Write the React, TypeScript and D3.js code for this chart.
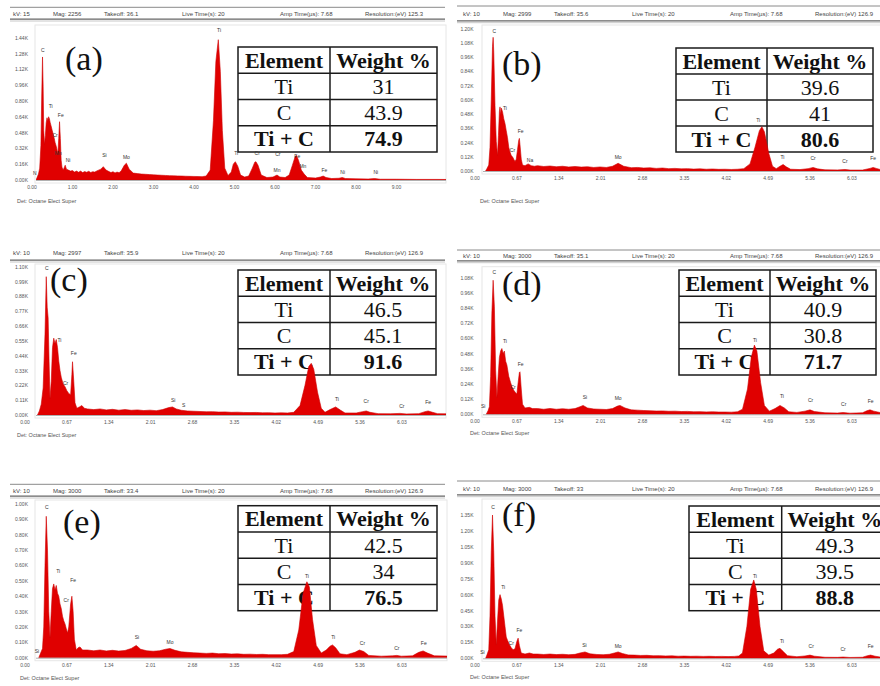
import { useEffect, useRef } from 'react';
import * as d3 from 'd3';

type Pt = [number, number];
type PeakLabel = [string, number, number];

const tableHeader = ['Element', 'Weight %'];
const tableRows = ['Ti', 'C', 'Ti + C'];
const detector = 'Det: Octane Elect Super';

const xTicksWide = [0, 1, 2, 3, 4, 5, 6, 7, 8, 9];
const xTicksNarrow = [0, 0.67, 1.34, 2.01, 2.68, 3.35, 4.02, 4.69, 5.36, 6.03];

// ---------- (a) ----------
const headerA = ['kV: 15', 'Mag: 2256', 'Takeoff: 36.1', 'Live Time(s): 20', 'Amp Time(µs): 7.68', 'Resolution:(eV) 125.3'];
const yTicksA = [0, 0.16, 0.32, 0.48, 0.64, 0.8, 0.96, 1.12, 1.28, 1.44];
const weightsA = ['31', '43.9', '74.9'];
const spectrumA: Pt[] = [
  [0.1, 0], [0.13, 0.03], [0.16, 0.06], [0.19, 0.12], [0.22, 0.35], [0.24, 0.85], [0.26, 1.245], [0.275, 0.95], [0.29, 0.5], [0.31, 0.36],
  [0.33, 0.45], [0.35, 0.58], [0.37, 0.63], [0.39, 0.6], [0.41, 0.64], [0.43, 0.62], [0.45, 0.58], [0.47, 0.55], [0.5, 0.5], [0.52, 0.47],
  [0.55, 0.42], [0.57, 0.38], [0.6, 0.34], [0.62, 0.3], [0.64, 0.27], [0.66, 0.42], [0.68, 0.59], [0.7, 0.42], [0.72, 0.2], [0.74, 0.13],
  [0.77, 0.1], [0.8, 0.13], [0.82, 0.15], [0.85, 0.11], [0.9, 0.1], [0.95, 0.09], [1.0, 0.095], [1.05, 0.08], [1.1, 0.09], [1.15, 0.078],
  [1.2, 0.09], [1.25, 0.075], [1.3, 0.085], [1.35, 0.078], [1.4, 0.088], [1.45, 0.076], [1.5, 0.084], [1.55, 0.08], [1.6, 0.092], [1.7, 0.11],
  [1.76, 0.135], [1.83, 0.1], [1.9, 0.085], [1.95, 0.075], [2.0, 0.084], [2.05, 0.072], [2.1, 0.08], [2.15, 0.074], [2.2, 0.09],
  [2.28, 0.15], [2.33, 0.17], [2.4, 0.11], [2.5, 0.07], [2.6, 0.065], [2.7, 0.06], [2.8, 0.058], [2.9, 0.055], [3.0, 0.052], [3.1, 0.05],
  [3.2, 0.048], [3.3, 0.046], [3.4, 0.044], [3.5, 0.042], [3.6, 0.041], [3.7, 0.04], [3.8, 0.038], [3.9, 0.037], [4.0, 0.036], [4.1, 0.035],
  [4.2, 0.034], [4.3, 0.04], [4.4, 0.1], [4.48, 0.6], [4.54, 1.2], [4.6, 1.42], [4.65, 1.1], [4.7, 0.5], [4.76, 0.12], [4.84, 0.045],
  [4.92, 0.08], [4.97, 0.16], [5.02, 0.185], [5.08, 0.14], [5.15, 0.05], [5.25, 0.03], [5.35, 0.04], [5.44, 0.12], [5.5, 0.18], [5.53, 0.185],
  [5.58, 0.15], [5.66, 0.05], [5.8, 0.025], [5.95, 0.03], [6.05, 0.05], [6.12, 0.03], [6.25, 0.025], [6.35, 0.05], [6.43, 0.15], [6.5, 0.24],
  [6.53, 0.25], [6.58, 0.2], [6.65, 0.1], [6.72, 0.06], [6.8, 0.025], [7.0, 0.02], [7.12, 0.03], [7.19, 0.04], [7.26, 0.025], [7.4, 0.015],
  [7.58, 0.018], [7.66, 0.025], [7.74, 0.015], [8.0, 0.012], [8.3, 0.01], [8.46, 0.015], [8.6, 0.008], [9.0, 0.008], [9.5, 0.006],
  [10.0, 0.006], [10.4, 0.005],
];
const labelsA: PeakLabel[] = [
  ['C', 0.27, 1.3], ['Ti', 0.46, 0.73], ['Fe', 0.71, 0.64], ['Cr', 0.57, 0.44], ['Mn', 0.65, 0.25], ['Ni', 0.89, 0.18],
  ['N', 0.07, 0.05], ['Si', 1.79, 0.23], ['Mo', 2.33, 0.21], ['Ti', 4.62, 1.5], ['Ti', 5.04, 0.25], ['Cr', 5.56, 0.25],
  ['Cr', 6.07, 0.24], ['Mn', 6.05, 0.08], ['Fe', 6.55, 0.225], ['Mn', 6.69, 0.12], ['Fe', 7.22, 0.08], ['Ni', 7.67, 0.06],
  ['Ni', 8.49, 0.06],
];

// ---------- (b) ----------
const headerB = ['kV: 10', 'Mag: 2999', 'Takeoff: 35.6', 'Live Time(s): 20', 'Amp Time(µs): 7.68', 'Resolution:(eV) 126.9'];
const yTicksB = [0, 0.12, 0.24, 0.36, 0.48, 0.6, 0.72, 0.84, 0.96, 1.08, 1.2];
const weightsB = ['39.6', '41', '80.6'];
const spectrumB: Pt[] = [
  [0.17, 0], [0.19, 0.02], [0.22, 0.05], [0.24, 0.2], [0.26, 0.6], [0.28, 1.05], [0.29, 1.126], [0.3, 1.0], [0.32, 0.55], [0.34, 0.25],
  [0.36, 0.13], [0.375, 0.3], [0.39, 0.5], [0.4, 0.54], [0.41, 0.47], [0.42, 0.53], [0.44, 0.5], [0.46, 0.44], [0.48, 0.4], [0.5, 0.34],
  [0.52, 0.28], [0.54, 0.2], [0.56, 0.16], [0.58, 0.13], [0.6, 0.12], [0.62, 0.1], [0.64, 0.08], [0.66, 0.1], [0.68, 0.18], [0.7, 0.26],
  [0.71, 0.275], [0.72, 0.22], [0.74, 0.1], [0.76, 0.05], [0.8, 0.045], [0.85, 0.06], [0.9, 0.045], [0.95, 0.04], [1.0, 0.045], [1.1, 0.038],
  [1.2, 0.042], [1.3, 0.036], [1.4, 0.04], [1.5, 0.034], [1.6, 0.038], [1.7, 0.033], [1.8, 0.036], [1.9, 0.03], [2.0, 0.034], [2.1, 0.03],
  [2.2, 0.04], [2.29, 0.065], [2.38, 0.04], [2.5, 0.028], [2.6, 0.03], [2.7, 0.025], [2.8, 0.027], [2.9, 0.022], [3.0, 0.025], [3.1, 0.02],
  [3.2, 0.022], [3.3, 0.018], [3.4, 0.02], [3.5, 0.016], [3.6, 0.018], [3.7, 0.015], [3.8, 0.017], [3.9, 0.014], [4.0, 0.015], [4.1, 0.013],
  [4.2, 0.015], [4.3, 0.02], [4.4, 0.06], [4.48, 0.2], [4.55, 0.34], [4.59, 0.373], [4.63, 0.33], [4.7, 0.15], [4.76, 0.04], [4.82, 0.02],
  [4.88, 0.04], [4.93, 0.055], [4.98, 0.035], [5.05, 0.015], [5.2, 0.012], [5.33, 0.02], [5.41, 0.03], [5.48, 0.018], [5.6, 0.01], [5.8, 0.009],
  [5.92, 0.013], [6.0, 0.008], [6.2, 0.008], [6.32, 0.022], [6.37, 0.03], [6.42, 0.022], [6.5, 0.01], [6.7, 0.008],
];
const labelsB: PeakLabel[] = [
  ['C', 0.31, 1.16], ['Ti', 0.48, 0.51], ['Cr', 0.6, 0.16], ['Fe', 0.73, 0.32], ['Na', 0.88, 0.08], ['Mo', 2.29, 0.1],
  ['Ti', 4.53, 0.415], ['Ti', 4.92, 0.1], ['Cr', 5.41, 0.09], ['Cr', 5.92, 0.07], ['Fe', 6.37, 0.09],
];

// ---------- (c) ----------
const headerC = ['kV: 10', 'Mag: 2997', 'Takeoff: 35.9', 'Live Time(s): 20', 'Amp Time(µs): 7.68', 'Resolution:(eV) 126.9'];
const yTicksC = [0, 0.11, 0.22, 0.33, 0.44, 0.55, 0.66, 0.77, 0.88, 0.99, 1.1];
const weightsC = ['46.5', '45.1', '91.6'];
const spectrumC: Pt[] = [
  [0.2, 0], [0.23, 0.03], [0.26, 0.08], [0.29, 0.2], [0.32, 0.6], [0.34, 1.026], [0.355, 0.8], [0.37, 0.72], [0.385, 0.4], [0.4, 0.12],
  [0.42, 0.25], [0.44, 0.5], [0.46, 0.57], [0.48, 0.53], [0.5, 0.56], [0.52, 0.5], [0.54, 0.4], [0.56, 0.33], [0.58, 0.28], [0.61, 0.23],
  [0.64, 0.21], [0.67, 0.18], [0.7, 0.16], [0.73, 0.15], [0.75, 0.3], [0.76, 0.395], [0.78, 0.25], [0.8, 0.09], [0.83, 0.05], [0.87, 0.06],
  [0.91, 0.07], [0.95, 0.05], [1.0, 0.045], [1.1, 0.04], [1.2, 0.045], [1.3, 0.038], [1.4, 0.042], [1.5, 0.036], [1.6, 0.04], [1.7, 0.035],
  [1.8, 0.038], [1.9, 0.033], [2.0, 0.036], [2.1, 0.032], [2.2, 0.04], [2.3, 0.055], [2.36, 0.06], [2.42, 0.045], [2.5, 0.035], [2.6, 0.03],
  [2.7, 0.028], [2.8, 0.026], [2.9, 0.024], [3.0, 0.025], [3.1, 0.022], [3.2, 0.023], [3.3, 0.02], [3.4, 0.021], [3.5, 0.019], [3.6, 0.018],
  [3.7, 0.019], [3.8, 0.016], [3.9, 0.017], [4.0, 0.015], [4.1, 0.016], [4.2, 0.015], [4.3, 0.02], [4.4, 0.07], [4.48, 0.22], [4.54, 0.36],
  [4.58, 0.383], [4.62, 0.34], [4.68, 0.17], [4.74, 0.05], [4.8, 0.02], [4.88, 0.04], [4.97, 0.06], [5.05, 0.035], [5.12, 0.015], [5.3, 0.015],
  [5.4, 0.025], [5.46, 0.03], [5.52, 0.02], [5.65, 0.01], [5.85, 0.009], [6.0, 0.012], [6.1, 0.008], [6.3, 0.01], [6.4, 0.025], [6.45, 0.03],
  [6.52, 0.02], [6.6, 0.01], [6.8, 0.008],
];
const labelsC: PeakLabel[] = [
  ['C', 0.35, 1.075], ['Ti', 0.55, 0.54], ['Cr', 0.65, 0.22], ['Fe', 0.78, 0.445], ['Si', 2.37, 0.1], ['S', 2.54, 0.06],
  ['Ti', 4.99, 0.106], ['Cr', 5.46, 0.087], ['Cr', 6.03, 0.054], ['Fe', 6.45, 0.08],
];

// ---------- (d) ----------
const headerD = ['kV: 10', 'Mag: 3000', 'Takeoff: 35.1', 'Live Time(s): 20', 'Amp Time(µs): 7.68', 'Resolution:(eV) 126.9'];
const yTicksD = [0, 0.12, 0.24, 0.36, 0.48, 0.6, 0.72, 0.84, 0.96, 1.08];
const weightsD = ['40.9', '30.8', '71.7'];
const spectrumD: Pt[] = [
  [0.18, 0], [0.21, 0.03], [0.23, 0.06], [0.25, 0.3], [0.27, 0.8], [0.29, 1.06], [0.31, 0.85], [0.33, 0.35], [0.35, 0.13], [0.37, 0.3],
  [0.39, 0.45], [0.41, 0.5], [0.43, 0.52], [0.45, 0.48], [0.47, 0.5], [0.49, 0.42], [0.51, 0.39], [0.54, 0.3], [0.57, 0.25], [0.59, 0.22],
  [0.62, 0.19], [0.65, 0.17], [0.67, 0.16], [0.69, 0.25], [0.71, 0.33], [0.72, 0.336], [0.74, 0.2], [0.76, 0.08], [0.8, 0.05], [0.87, 0.055],
  [0.92, 0.045], [1.0, 0.045], [1.1, 0.04], [1.2, 0.046], [1.3, 0.04], [1.4, 0.044], [1.5, 0.04], [1.6, 0.045], [1.68, 0.06], [1.73, 0.07],
  [1.8, 0.05], [1.9, 0.042], [2.0, 0.04], [2.1, 0.038], [2.2, 0.045], [2.28, 0.065], [2.32, 0.07], [2.4, 0.05], [2.5, 0.035], [2.6, 0.033],
  [2.7, 0.03], [2.8, 0.028], [2.9, 0.026], [3.0, 0.027], [3.1, 0.024], [3.2, 0.025], [3.3, 0.022], [3.4, 0.023], [3.5, 0.02], [3.6, 0.021],
  [3.7, 0.019], [3.8, 0.02], [3.9, 0.018], [4.0, 0.018], [4.1, 0.017], [4.2, 0.02], [4.28, 0.04], [4.36, 0.2], [4.42, 0.45], [4.47, 0.547],
  [4.51, 0.5], [4.57, 0.25], [4.63, 0.07], [4.71, 0.025], [4.8, 0.045], [4.88, 0.07], [4.95, 0.05], [5.02, 0.02], [5.15, 0.015], [5.28, 0.025],
  [5.36, 0.035], [5.43, 0.022], [5.6, 0.012], [5.8, 0.01], [5.89, 0.014], [6.0, 0.009], [6.2, 0.012], [6.27, 0.028], [6.32, 0.035], [6.38, 0.025],
  [6.5, 0.012], [6.7, 0.01],
];
const labelsD: PeakLabel[] = [
  ['C', 0.31, 1.11], ['Ti', 0.48, 0.56], ['Cr', 0.61, 0.2], ['Fe', 0.73, 0.38], ['Si', 0.13, 0.05], ['Si', 1.76, 0.12],
  ['Mo', 2.29, 0.11], ['Ti', 4.48, 0.57], ['Ti', 4.91, 0.126], ['Cr', 5.37, 0.1], ['Cr', 5.9, 0.065], ['Fe', 6.33, 0.09],
];

// ---------- (e) ----------
const headerE = ['kV: 10', 'Mag: 3000', 'Takeoff: 33.4', 'Live Time(s): 20', 'Amp Time(µs): 7.68', 'Resolution:(eV) 126.9'];
const yTicksE = [0, 0.1, 0.2, 0.3, 0.4, 0.5, 0.6, 0.7, 0.8, 0.9, 1.0];
const weightsE = ['42.5', '34', '76.5'];
const spectrumE: Pt[] = [
  [0.22, 0], [0.25, 0.03], [0.28, 0.06], [0.3, 0.2], [0.32, 0.6], [0.34, 0.92], [0.36, 0.7], [0.38, 0.3], [0.4, 0.13], [0.42, 0.3],
  [0.44, 0.45], [0.46, 0.48], [0.48, 0.44], [0.5, 0.47], [0.52, 0.42], [0.54, 0.4], [0.56, 0.35], [0.58, 0.32], [0.6, 0.27], [0.62, 0.24],
  [0.64, 0.22], [0.66, 0.19], [0.68, 0.16], [0.7, 0.2], [0.73, 0.35], [0.75, 0.4], [0.77, 0.3], [0.79, 0.12], [0.82, 0.05], [0.85, 0.065],
  [0.88, 0.07], [0.92, 0.05], [1.0, 0.05], [1.1, 0.045], [1.2, 0.05], [1.3, 0.044], [1.4, 0.048], [1.5, 0.043], [1.6, 0.047], [1.7, 0.06],
  [1.78, 0.08], [1.85, 0.055], [1.95, 0.045], [2.05, 0.042], [2.15, 0.045], [2.25, 0.055], [2.32, 0.06], [2.4, 0.048], [2.5, 0.038], [2.6, 0.035],
  [2.7, 0.032], [2.8, 0.03], [2.9, 0.028], [3.0, 0.03], [3.1, 0.026], [3.2, 0.027], [3.3, 0.024], [3.4, 0.025], [3.5, 0.022], [3.6, 0.023],
  [3.7, 0.021], [3.8, 0.022], [3.9, 0.02], [4.0, 0.02], [4.1, 0.02], [4.2, 0.022], [4.3, 0.04], [4.38, 0.18], [4.45, 0.42], [4.51, 0.494],
  [4.55, 0.46], [4.6, 0.25], [4.66, 0.08], [4.74, 0.03], [4.82, 0.05], [4.88, 0.075], [4.92, 0.083], [4.97, 0.065], [5.04, 0.025], [5.15, 0.02],
  [5.28, 0.035], [5.35, 0.05], [5.42, 0.04], [5.5, 0.015], [5.7, 0.01], [5.88, 0.012], [5.95, 0.015], [6.02, 0.01], [6.2, 0.012], [6.3, 0.035],
  [6.37, 0.044], [6.44, 0.03], [6.55, 0.012], [6.8, 0.01],
];
const labelsE: PeakLabel[] = [
  ['C', 0.35, 0.97], ['Ti', 0.53, 0.55], ['Fe', 0.77, 0.49], ['Cr', 0.66, 0.36], ['Si', 0.19, 0.03], ['Si', 1.79, 0.12],
  ['Mo', 2.32, 0.09], ['Ti', 4.51, 0.52], ['Ti', 4.93, 0.12], ['Cr', 5.4, 0.083], ['Cr', 5.95, 0.05], ['Fe', 6.38, 0.08],
];

// ---------- (f) ----------
const headerF = ['kV: 10', 'Mag: 3000', 'Takeoff: 33', 'Live Time(s): 20', 'Amp Time(µs): 7.68', 'Resolution:(eV) 126.9'];
const yTicksF = [0, 0.15, 0.3, 0.45, 0.6, 0.75, 0.9, 1.05, 1.2, 1.35];
const weightsF = ['49.3', '39.5', '88.8'];
const spectrumF: Pt[] = [
  [0.17, 0], [0.19, 0.03], [0.22, 0.08], [0.24, 0.4], [0.26, 1.0], [0.28, 1.35], [0.3, 1.0], [0.32, 0.4], [0.34, 0.125], [0.36, 0.35],
  [0.38, 0.55], [0.4, 0.6], [0.42, 0.56], [0.44, 0.5], [0.46, 0.4], [0.48, 0.3], [0.5, 0.2], [0.52, 0.17], [0.55, 0.13], [0.58, 0.1],
  [0.61, 0.08], [0.64, 0.09], [0.67, 0.16], [0.69, 0.19], [0.71, 0.12], [0.74, 0.05], [0.8, 0.04], [0.87, 0.05], [0.93, 0.04], [1.0, 0.04],
  [1.1, 0.036], [1.2, 0.04], [1.3, 0.035], [1.4, 0.038], [1.5, 0.034], [1.6, 0.037], [1.68, 0.05], [1.76, 0.06], [1.84, 0.042], [1.95, 0.036],
  [2.05, 0.034], [2.15, 0.038], [2.23, 0.05], [2.29, 0.06], [2.36, 0.045], [2.45, 0.032], [2.55, 0.03], [2.65, 0.027], [2.75, 0.028], [2.85, 0.024],
  [2.95, 0.025], [3.05, 0.022], [3.15, 0.023], [3.25, 0.02], [3.35, 0.021], [3.45, 0.019], [3.55, 0.02], [3.65, 0.018], [3.75, 0.019], [3.85, 0.017],
  [3.95, 0.018], [4.05, 0.016], [4.15, 0.018], [4.22, 0.022], [4.28, 0.05], [4.35, 0.3], [4.41, 0.65], [4.46, 0.738], [4.5, 0.65], [4.56, 0.3],
  [4.62, 0.07], [4.7, 0.03], [4.78, 0.05], [4.84, 0.085], [4.88, 0.094], [4.92, 0.07], [5.0, 0.025], [5.15, 0.015], [5.28, 0.022], [5.36, 0.03],
  [5.43, 0.02], [5.6, 0.01], [5.8, 0.009], [5.89, 0.012], [6.0, 0.008], [6.2, 0.01], [6.28, 0.025], [6.33, 0.03], [6.4, 0.02], [6.5, 0.01],
  [6.7, 0.01],
];
const labelsF: PeakLabel[] = [
  ['C', 0.29, 1.41], ['Ti', 0.45, 0.65], ['Cr', 0.58, 0.125], ['Fe', 0.71, 0.25], ['Si', 0.12, 0.045], ['Si', 1.75, 0.11],
  ['Mo', 2.29, 0.1], ['Ti', 4.48, 0.76], ['Ti', 4.91, 0.14], ['Cr', 5.38, 0.1], ['Cr', 5.89, 0.07], ['Fe', 6.33, 0.1],
];

const RED = '#e00000';
const SANS = "'Liberation Sans', Arial, sans-serif";
const SERIF = "'Liberation Serif', 'Times New Roman', serif";
const headerOffsets = [13, 53, 104, 182, 280, 365];

// layout of each sub-figure in page pixels
const panels = [
  { id: 'a', letter: '(a)', header: headerA, yTicks: yTicksA, xTicks: xTicksWide, weights: weightsA, spectrum: spectrumA, labels: labelsA,
    col: 0, headTop: 7.3, headMid: 14, headBot: 20, headL: 10, headR: 445, x0: 32, kev: 40.5, plotL: 36, plotR: 446,
    frameTop: 25, base: 180, top: 37.7, yLabR: 28, letterXY: [65, 70], det: [17, 201], table: [238, 47, 199, 105, 92] },
  { id: 'b', letter: '(b)', header: headerB, yTicks: yTicksB, xTicks: xTicksNarrow, weights: weightsB, spectrum: spectrumB, labels: labelsB,
    col: 450, headTop: 6, headMid: 14, headBot: 21.7, headL: 457, headR: 880, x0: 475, kev: 62.5, plotL: 483, plotR: 896,
    frameTop: 25, base: 171, top: 28.5, yLabR: 473.5, letterXY: [502, 75], det: [480, 201], table: [676, 48, 197, 104, 91] },
  { id: 'c', letter: '(c)', header: headerC, yTicks: yTicksC, xTicks: xTicksNarrow, weights: weightsC, spectrum: spectrumC, labels: labelsC,
    col: 0, headTop: null, headMid: 253.3, headBot: 261, headL: 10, headR: 445, x0: 25, kev: 62.5, plotL: 36, plotR: 446,
    frameTop: 264, base: 415, top: 266.7, yLabR: 28, letterXY: [50, 291], det: [17, 435], table: [238, 270, 198, 105, 92] },
  { id: 'd', letter: '(d)', header: headerD, yTicks: yTicksD, xTicks: xTicksNarrow, weights: weightsD, spectrum: spectrumD, labels: labelsD,
    col: 450, headTop: 250, headMid: 255.7, headBot: 261.7, headL: 457, headR: 880, x0: 475, kev: 62.5, plotL: 483, plotR: 896,
    frameTop: 266.7, base: 414.3, top: 277.7, yLabR: 473.5, letterXY: [502, 295], det: [470, 433], table: [679, 270, 197, 105, 91] },
  { id: 'e', letter: '(e)', header: headerE, yTicks: yTicksE, xTicks: xTicksNarrow, weights: weightsE, spectrum: spectrumE, labels: labelsE,
    col: 0, headTop: 484.3, headMid: 491, headBot: 497, headL: 10, headR: 445, x0: 25, kev: 62.5, plotL: 36, plotR: 447,
    frameTop: 500, base: 657.7, top: 504, yLabR: 28, letterXY: [63, 533], det: [20, 678], table: [238, 505.7, 199, 105, 92] },
  { id: 'f', letter: '(f)', header: headerF, yTicks: yTicksF, xTicks: xTicksNarrow, weights: weightsF, spectrum: spectrumF, labels: labelsF,
    col: 450, headTop: 481, headMid: 489, headBot: 495.7, headL: 457, headR: 880, x0: 475, kev: 62.5, plotL: 483, plotR: 896,
    frameTop: 499, base: 658.3, top: 515, yLabR: 473.5, letterXY: [502, 526], det: [470, 677], table: [689, 506, 199, 104.7, 92.7] },
];

export default function App() {
  const svgRef = useRef<SVGSVGElement>(null);

  useEffect(() => {
    if (!svgRef.current) return;
    const svg = d3.select(svgRef.current);
    svg.selectAll('*').remove();

    svg.append('rect').attr('width', 880).attr('height', 686).attr('fill', '#fff');
    const defs = svg.append('defs');

    panels.forEach(p => {
      const g = svg.append('g');
      const yMax = p.yTicks[p.yTicks.length - 1];
      const x = d3.scaleLinear().domain([0, 1]).range([p.x0, p.x0 + p.kev]);
      const y = d3.scaleLinear().domain([0, yMax]).range([p.base, p.top]);

      // header strip
      if (p.headTop != null) {
        g.append('line').attr('x1', p.headL).attr('x2', p.headR).attr('y1', p.headTop).attr('y2', p.headTop)
          .attr('stroke', '#8a8a8a').attr('stroke-width', 1);
      }
      g.append('line').attr('x1', p.headL).attr('x2', p.headR).attr('y1', p.headBot - 0.8).attr('y2', p.headBot - 0.8)
        .attr('stroke', '#666').attr('stroke-width', 1.2);
      g.append('line').attr('x1', p.headL).attr('x2', p.headR).attr('y1', p.headBot + 1).attr('y2', p.headBot + 1)
        .attr('stroke', '#c8c8c8').attr('stroke-width', 1);
      g.selectAll('.hdr').data(p.header).enter().append('text')
        .attr('x', (_, i) => p.col + headerOffsets[i])
        .attr('y', p.headMid + 2)
        .attr('font-family', SANS).attr('font-size', 6).attr('fill', '#444')
        .text(d => d);

      // faint plot frame
      g.append('rect')
        .attr('x', p.plotL - 1).attr('y', p.frameTop)
        .attr('width', Math.min(p.plotR, 882) - p.plotL + 1).attr('height', p.base + 3 - p.frameTop)
        .attr('fill', 'none').attr('stroke', '#e6e6e6').attr('stroke-width', 1);

      // composition table
      const [tx, ty, tw, th, tdiv] = p.table;
      const rh = th / 4;
      const tg = g.append('g');
      tg.append('rect').attr('x', tx).attr('y', ty).attr('width', tw).attr('height', th)
        .attr('fill', '#fff').attr('stroke', '#1a1a1a').attr('stroke-width', 1.5);
      tg.append('line').attr('x1', tx + tdiv).attr('x2', tx + tdiv).attr('y1', ty).attr('y2', ty + th)
        .attr('stroke', '#1a1a1a').attr('stroke-width', 1.5);
      [1, 2, 3].forEach(i => {
        tg.append('line').attr('x1', tx).attr('x2', tx + tw).attr('y1', ty + rh * i).attr('y2', ty + rh * i)
          .attr('stroke', '#1a1a1a').attr('stroke-width', 1.5);
      });
      const cells: { t: string; cx: number; r: number; bold: boolean }[] = [];
      cells.push({ t: tableHeader[0], cx: tx + tdiv / 2, r: 0, bold: true });
      cells.push({ t: tableHeader[1], cx: tx + tdiv + (tw - tdiv) / 2, r: 0, bold: true });
      tableRows.forEach((name, i) => {
        cells.push({ t: name, cx: tx + tdiv / 2, r: i + 1, bold: i === 2 });
        cells.push({ t: p.weights[i], cx: tx + tdiv + (tw - tdiv) / 2, r: i + 1, bold: i === 2 });
      });
      tg.selectAll('.cell').data(cells).enter().append('text')
        .attr('x', d => d.cx).attr('y', d => ty + rh * d.r + rh / 2 + 7.5)
        .attr('text-anchor', 'middle')
        .attr('font-family', SERIF).attr('font-size', 22)
        .attr('font-weight', d => (d.bold ? 'bold' : 'normal'))
        .attr('fill', '#111')
        .text(d => d.t);

      // spectrum
      const clipId = `clip-${p.id}`;
      defs.append('clipPath').attr('id', clipId).append('rect')
        .attr('x', p.plotL).attr('y', p.frameTop).attr('width', p.plotR - p.plotL).attr('height', p.base - p.frameTop + 1);
      const area = d3.area<Pt>().x(d => x(d[0])).y0(p.base).y1(d => y(d[1]));
      g.append('path').datum(p.spectrum)
        .attr('clip-path', `url(#${clipId})`)
        .attr('d', area)
        .attr('fill', RED).attr('stroke', '#d00000').attr('stroke-width', 0.6);

      // axis baseline
      g.append('line').attr('x1', p.plotL).attr('x2', Math.min(p.plotR, 882)).attr('y1', p.base + 0.5).attr('y2', p.base + 0.5)
        .attr('stroke', '#b0b0b0').attr('stroke-width', 1);

      // y tick labels
      g.selectAll('.yt').data(p.yTicks).enter().append('text')
        .attr('x', p.yLabR).attr('y', d => y(d) + 2)
        .attr('text-anchor', 'end')
        .attr('font-family', SANS).attr('font-size', 5).attr('fill', '#555')
        .text(d => `${d.toFixed(2)}K`);

      // x tick labels
      g.selectAll('.xt').data(p.xTicks).enter().append('text')
        .attr('x', d => x(d)).attr('y', p.base + 9)
        .attr('text-anchor', 'middle')
        .attr('font-family', SANS).attr('font-size', 5).attr('fill', '#555')
        .text(d => d.toFixed(2));

      // peak labels
      g.selectAll('.pk').data(p.labels).enter().append('text')
        .attr('x', d => x(d[1])).attr('y', d => y(d[2]))
        .attr('text-anchor', 'middle')
        .attr('font-family', SANS).attr('font-size', 5).attr('fill', '#333')
        .text(d => d[0]);

      // detector caption
      g.append('text').attr('x', p.det[0]).attr('y', p.det[1] + 2)
        .attr('font-family', SANS).attr('font-size', 5.5).attr('fill', '#555')
        .text(detector);

      // panel letter
      g.append('text').attr('x', p.letterXY[0]).attr('y', p.letterXY[1])
        .attr('font-family', SERIF).attr('font-size', 34).attr('fill', '#111')
        .text(p.letter);
    });
  }, []);

  return (
    <svg
      ref={svgRef}
      width={880}
      height={686}
      style={{ position: 'absolute', left: 0, top: 0, display: 'block' }}
    />
  );
}
